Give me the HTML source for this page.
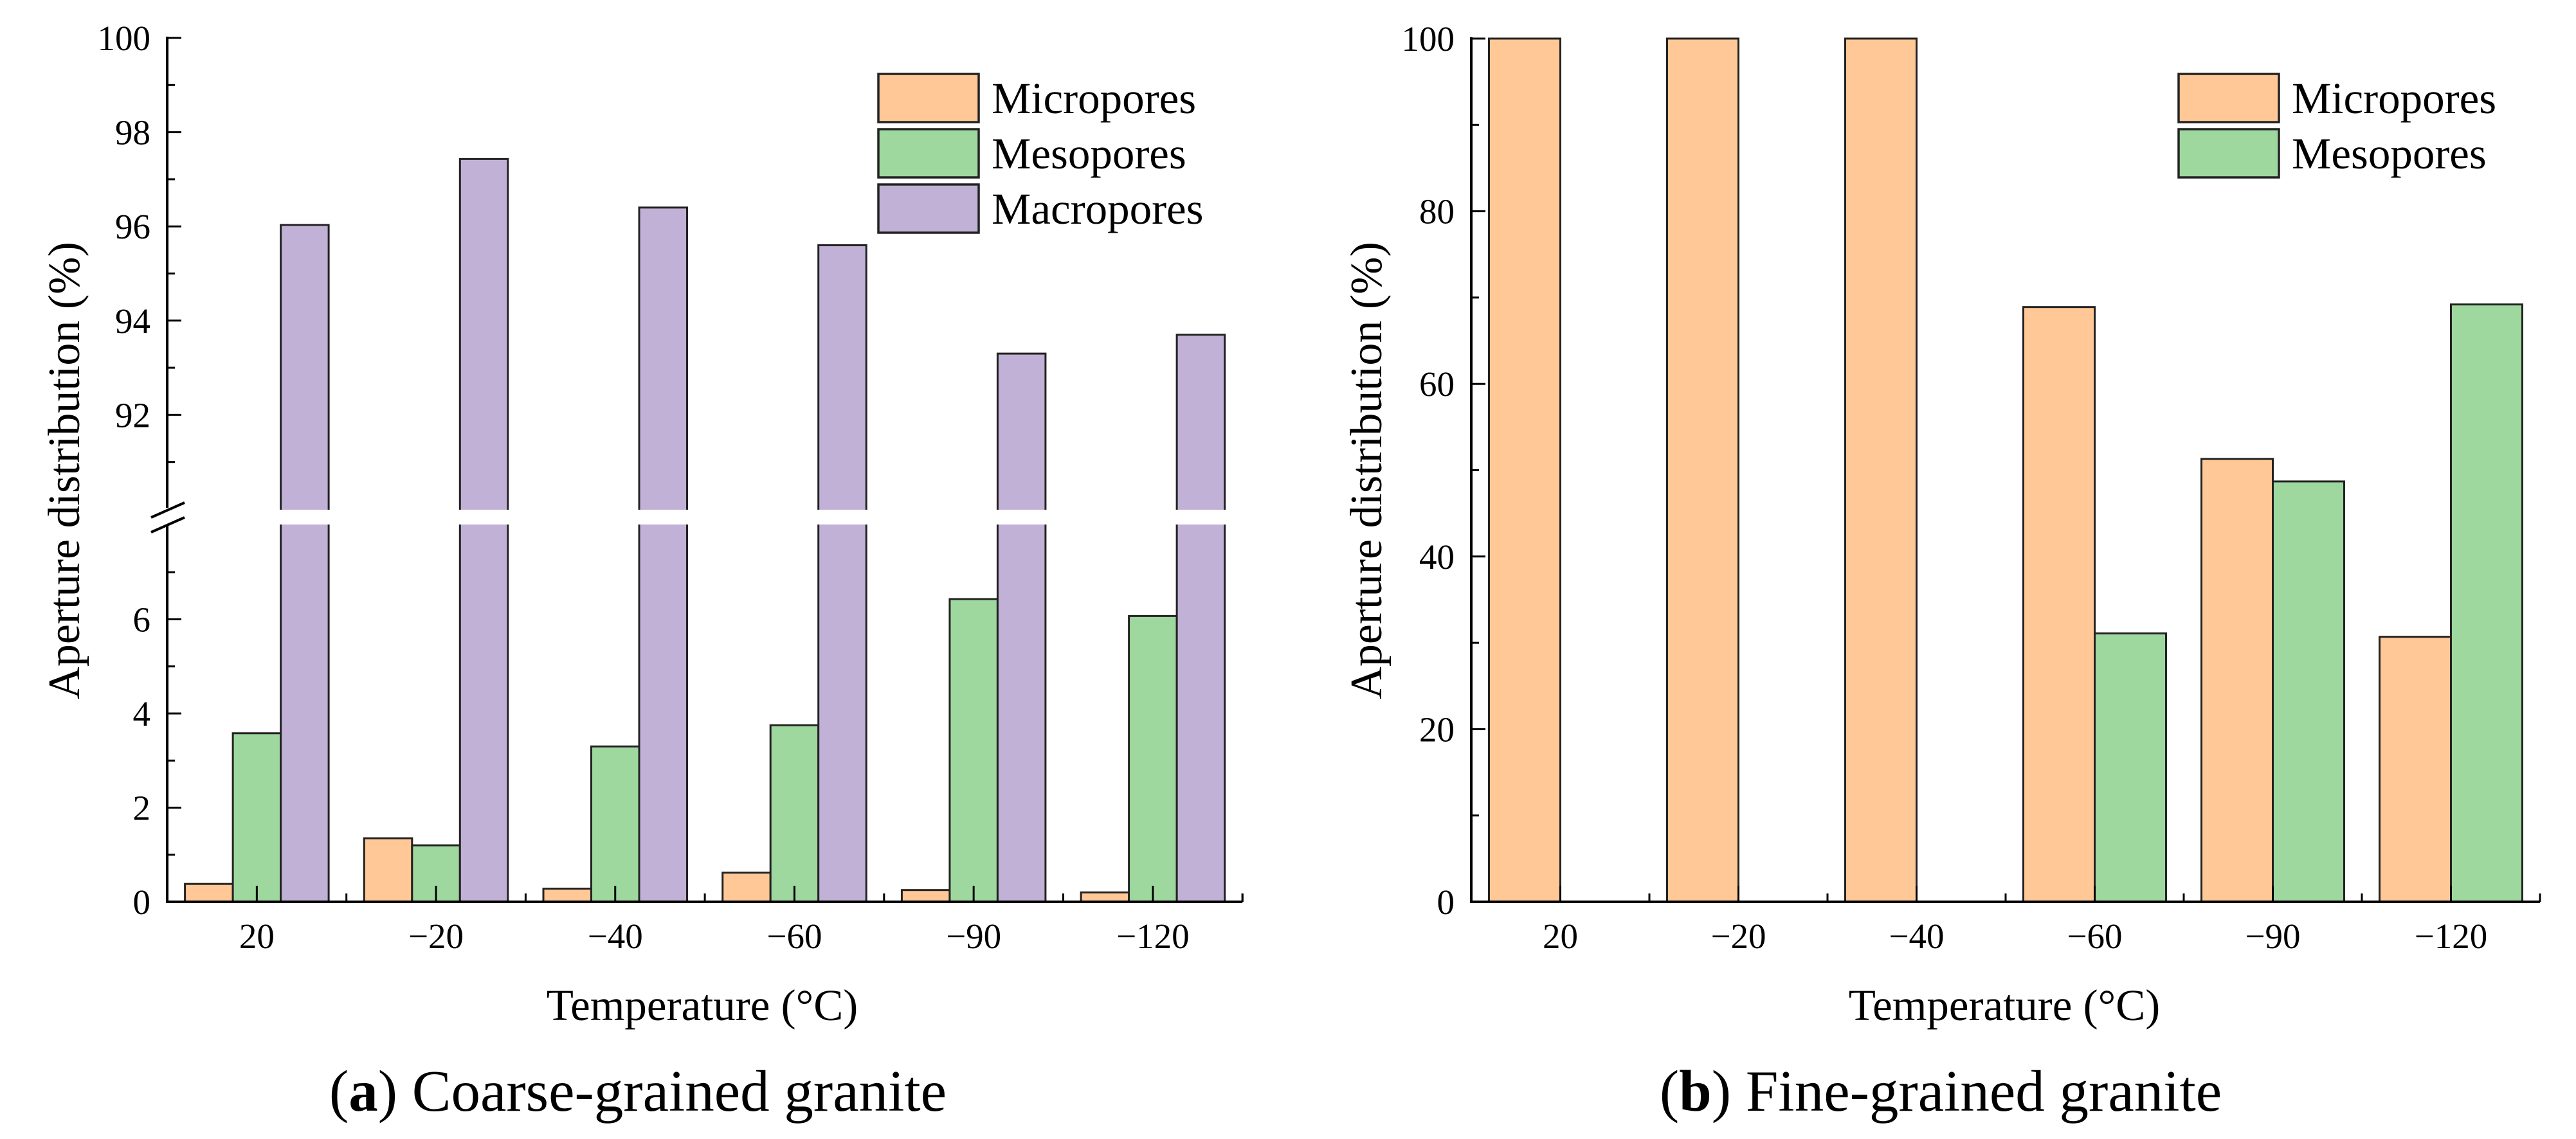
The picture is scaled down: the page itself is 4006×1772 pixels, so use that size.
<!DOCTYPE html>
<html><head><meta charset="utf-8"><style>
html,body{margin:0;padding:0;background:#fff;}
svg{display:block;font-family:"Liberation Serif",serif;}
</style></head><body>
<svg id="s" width="4006" height="1772" viewBox="0 0 4006 1772"></svg>
<script>
const categories=["20","\u221220","\u221240","\u221260","\u221290","\u2212120"];
const coarseMicro=[0.38,1.35,0.28,0.62,0.25,0.2];
const coarseMeso=[3.58,1.2,3.3,3.75,6.43,6.07];
const coarseMacro=[96.03,97.43,96.4,95.6,93.3,93.7];
const fineMicro=[100,100,100,68.9,51.3,30.7];
const fineMeso=[0,0,0,31.1,48.7,69.2];
const coarseUpperTicks=[92,94,96,98,100];
const coarseLowerTicks=[0,2,4,6];
const fineTicks=[0,20,40,60,80,100];
const seriesNames=["Micropores","Mesopores","Macropores"];
const colors=["#FFC896","#9ED89E","#C2B1D6"];
const NS="http://www.w3.org/2000/svg";
const svg=document.getElementById('s');
function el(tag,attrs,parent,text){const e=document.createElementNS(NS,tag);for(const k in attrs)e.setAttribute(k,attrs[k]);if(text!==undefined)e.textContent=text;(parent||svg).appendChild(e);return e;}

// ---- coarse chart (a) ----
const A={x0:260,base:1403};
const bandA=278.7;
A.x1=A.x0+bandA*6;
function yA(v){ if(v<=8) return A.base-(v/8)*(A.base-817); return 792-((Math.min(v,100)-90)/10)*(792-59); }
const gA=el('g',{});


const seriesA=[coarseMicro,coarseMeso,coarseMacro];
const bwA=74.5;
seriesA.forEach((ser,si)=>{
  ser.forEach((v,i)=>{
    const cx=A.x0+bandA*(i+0.5);
    const x=cx-1.5*bwA+si*bwA;
    const y=yA(v);
    const r=el('rect',{x:x,y:y,width:bwA,height:A.base-y,fill:colors[si],stroke:'#222','stroke-width':3},gA);
    
    
    if(v>8){const w=el('rect',{x:x-3,y:793,width:bwA+6,height:23,fill:'#fff'},gA);
      
      }
  });
});
el('line',{x1:A.x0,y1:57,x2:A.x0,y2:790,stroke:'#000','stroke-width':4},gA);
el('line',{x1:A.x0,y1:817,x2:A.x0,y2:A.base+2,stroke:'#000','stroke-width':4},gA);
el('line',{x1:235,y1:805,x2:287,y2:782,stroke:'#000','stroke-width':4},gA);
el('line',{x1:235,y1:828,x2:287,y2:805,stroke:'#000','stroke-width':4},gA);
el('line',{x1:A.x0-2,y1:A.base,x2:A.x1,y2:A.base,stroke:'#000','stroke-width':4},gA);
el('line',{x1:A.x1,y1:A.base,x2:A.x1,y2:A.base-13,stroke:'#000','stroke-width':3},gA);
[coarseUpperTicks,coarseLowerTicks].forEach(arr=>arr.forEach(t=>{
  const y=yA(t);
  el('line',{x1:A.x0,y1:y,x2:A.x0+22,y2:y,stroke:'#000','stroke-width':3},gA);
  const tx=el('text',{x:234,y:y+19,'font-size':55,'text-anchor':'end'},gA,String(t));
  
  
}));
[91,93,95,97,99,1,3,5,7].forEach(t=>{const y=yA(t);el('line',{x1:A.x0,y1:y,x2:A.x0+12,y2:y,stroke:'#000','stroke-width':3},gA);});
categories.forEach((c,i)=>{
  const cx=A.x0+bandA*(i+0.5);
  el('line',{x1:cx,y1:A.base,x2:cx,y2:A.base-25,stroke:'#000','stroke-width':3},gA);
  el('line',{x1:A.x0+bandA*(i+1),y1:A.base,x2:A.x0+bandA*(i+1),y2:A.base-13,stroke:'#000','stroke-width':3},gA);
  const t=el('text',{x:cx,y:1475,'font-size':55,'text-anchor':'middle'},gA,c);
  
  
});
// ---- fine chart (b) ----
const B={x0:2288,base:1403,top:60};
const bandB=277;
B.x1=B.x0+bandB*6;
function yB(v){return B.base-(v/100)*(B.base-B.top);}
const gB=el('g',{});


const bwB=111;
[fineMicro,fineMeso].forEach((ser,si)=>{
  ser.forEach((v,i)=>{
    if(v<=0) return;
    const cx=B.x0+bandB*(i+0.5);
    const x=cx-bwB+si*bwB;
    const y=yB(v);
    const r=el('rect',{x:x,y:y,width:bwB,height:B.base-y,fill:colors[si],stroke:'#222','stroke-width':3},gB);
    
    
  });
});
el('line',{x1:B.x0,y1:B.top-2,x2:B.x0,y2:B.base+2,stroke:'#000','stroke-width':4},gB);
el('line',{x1:B.x0-2,y1:B.base,x2:B.x1,y2:B.base,stroke:'#000','stroke-width':4},gB);
fineTicks.forEach(t=>{
  const y=yB(t);
  el('line',{x1:B.x0,y1:y,x2:B.x0+22,y2:y,stroke:'#000','stroke-width':3},gB);
  const tx=el('text',{x:2262,y:y+19,'font-size':55,'text-anchor':'end'},gB,String(t));
  
  
});
[10,30,50,70,90].forEach(t=>{const y=yB(t);el('line',{x1:B.x0,y1:y,x2:B.x0+12,y2:y,stroke:'#000','stroke-width':3},gB);});
categories.forEach((c,i)=>{
  const cx=B.x0+bandB*(i+0.5);
  el('line',{x1:cx,y1:B.base,x2:cx,y2:B.base-25,stroke:'#000','stroke-width':3},gB);
  el('line',{x1:B.x0+bandB*(i+1),y1:B.base,x2:B.x0+bandB*(i+1),y2:B.base-13,stroke:'#000','stroke-width':3},gB);
  const t=el('text',{x:cx,y:1475,'font-size':55,'text-anchor':'middle'},gB,c);
  
  
});
// legends
function legend(x,n,parent,name){
  const g=el('g',{},parent);
  
  
  const ys=[115,201,287];
  for(let i=0;i<n;i++){
    el('rect',{x:x,y:ys[i],width:156,height:75,fill:colors[i],stroke:'#222','stroke-width':3.5},g);
    const t=el('text',{x:x+176,y:ys[i]+61,'font-size':69},g,seriesNames[i]);
    
    
  }
}
legend(1366,3,gA,'coarse-legend');
legend(3388,2,gB,'fine-legend');
// titles
function txt(attrs,s,name){const t=el('text',attrs,svg,s);return t;}
txt({x:0,y:0,'font-size':70,'text-anchor':'middle',transform:'translate(123,732) rotate(-90)'},'Aperture distribution (%)','coarse-y-axis-title');
txt({x:0,y:0,'font-size':70,'text-anchor':'middle',transform:'translate(2148,732) rotate(-90)'},'Aperture distribution (%)','fine-y-axis-title');
txt({x:1092,y:1587,'font-size':69,'text-anchor':'middle'},'Temperature (\u00B0C)','coarse-x-axis-title');
txt({x:3117,y:1587,'font-size':69,'text-anchor':'middle'},'Temperature (\u00B0C)','fine-x-axis-title');
const c1=txt({x:992,y:1728,'font-size':91,'text-anchor':'middle'},'','coarse-caption');
c1.innerHTML='(<tspan font-weight="bold">a</tspan>) Coarse-grained granite';
const c2=txt({x:3018,y:1728,'font-size':91,'text-anchor':'middle'},'','fine-caption');
c2.innerHTML='(<tspan font-weight="bold">b</tspan>) Fine-grained granite';
</script>
</body></html>
